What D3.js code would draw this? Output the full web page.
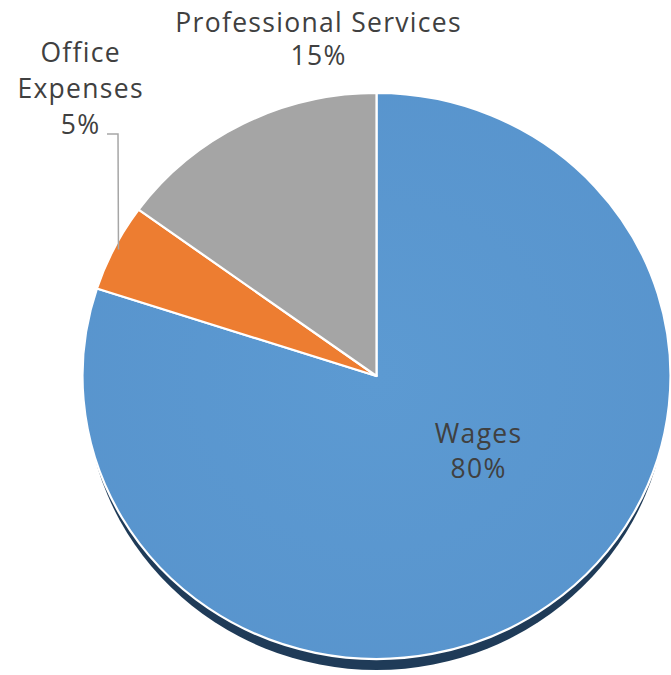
<!DOCTYPE html>
<html>
<head>
<meta charset="utf-8">
<script src="https://cdn.jsdelivr.net/npm/d3@7"></script>
<style>
  html, body { margin: 0; padding: 0; background: #fff; }
  svg { display: block; }
  text { font-family: "Open Sans", "Liberation Sans", Arial, sans-serif; fill: #404040; letter-spacing: 1.3px; }
</style>
</head>
<body>
<svg id="chart" width="671" height="675"></svg>
<script>
const categories = ["Wages", "Office Expenses", "Professional Services"];
const values = [80, 5, 15];
const labels = ["80%", "5%", "15%"];
const colors = ["#5B9BD5", "#ED7D31", "#A5A5A5"];

const W = 671, H = 675;
const cx = 376.5, cy = 376, rx = 294, ry = 283;
const svg = d3.select("#chart");

const defs = svg.append("defs");
const grad = defs.append("radialGradient").attr("id", "blueGrad")
  .attr("cx", "0.5").attr("cy", "0.5").attr("r", "0.6");
grad.append("stop").attr("offset", "0%").attr("stop-color", "#5C9AD2");
grad.append("stop").attr("offset", "100%").attr("stop-color", "#5894CD");

// shadow
svg.append("ellipse")
  .attr("cx", cx).attr("cy", cy + 11)
  .attr("rx", rx - 3).attr("ry", ry)
  .attr("fill", "#1F3B58");

const pie = d3.pie().sort(null).value(d => d).startAngle(0).endAngle(2 * Math.PI);
const arcs = pie(values);
const arc = d3.arc().innerRadius(0).outerRadius(ry);

const g = svg.append("g")
  .attr("transform", `translate(${cx},${cy}) scale(${rx / ry},1)`);

g.selectAll("path.slice")
  .data(arcs)
  .join("path")
  .attr("class", "slice")
  .attr("d", arc)
  .attr("fill", (d, i) => i === 0 ? "url(#blueGrad)" : colors[i])
  .attr("stroke", "#fff")
  .attr("stroke-width", 2.2)
  .attr("stroke-linejoin", "round")
  .attr("vector-effect", "non-scaling-stroke");

const fs = 26.5;
const ls = 0.65; // half letter-spacing compensation
// Wages label (inside)
const wagesG = svg.append("text").attr("text-anchor", "middle").attr("font-size", fs);
wagesG.append("tspan").attr("x", 478 + ls).attr("y", 443).text(categories[0]);
wagesG.append("tspan").attr("x", 478 + ls).attr("y", 478).text(labels[0]);

// Professional Services label
const prof = svg.append("text").attr("text-anchor", "middle").attr("font-size", fs);
prof.append("tspan").attr("x", 318 + ls).attr("y", 32).text(categories[2]);
prof.append("tspan").attr("x", 318 + ls).attr("y", 65).text(labels[2]);

// Office Expenses label
const off = svg.append("text").attr("text-anchor", "middle").attr("font-size", fs);
off.append("tspan").attr("x", 80 + ls).attr("y", 62).text("Office");
off.append("tspan").attr("x", 80 + ls).attr("y", 98).text("Expenses");
off.append("tspan").attr("x", 80 + ls).attr("y", 134).text(labels[1]);

// leader line for Office Expenses
const mid = (arcs[1].startAngle + arcs[1].endAngle) / 2;
const ex = cx + Math.sin(mid) * rx * 0.985;
const ey = cy - Math.cos(mid) * ry * 0.985;
svg.append("path")
  .attr("d", `M107,134 L118,134 L${ex},${ey}`)
  .attr("fill", "none")
  .attr("stroke", "#A6A6A6")
  .attr("stroke-width", 1.5);
</script>
</body>
</html>
